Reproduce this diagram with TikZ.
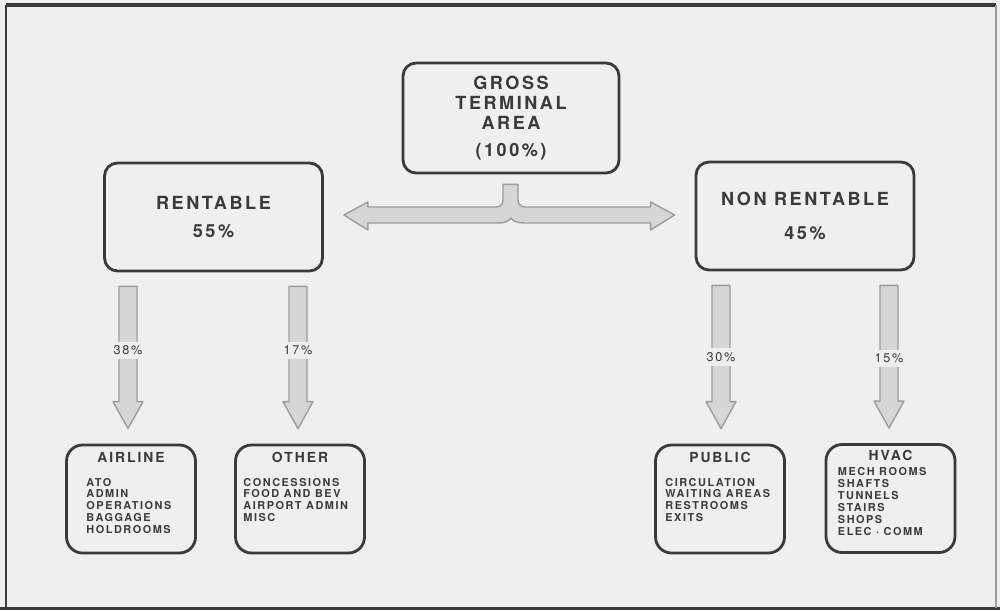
\documentclass[tikz,border=0pt]{standalone}
\usepackage{fontspec}
\usepackage{tikz}
\usetikzlibrary{positioning,calc}
\newfontfamily\diafont[LetterSpace=14]{TeX Gyre Heros}
\definecolor{ink}{HTML}{3A3A3A}
\definecolor{paper}{HTML}{EFEFED}
\definecolor{shade}{HTML}{D6D6D4}
\definecolor{edge}{HTML}{9C9C9A}
\newcommand{\fatdown}[5]{% top, tip, label, pos, name
  \filldraw[fat] ($(#1)+(-9,0)$) -- ($(#1)+(9,0)$) -- ($(#2)+(9,-27)$) -- ($(#2)+(15,-27)$) -- (#2)
    -- ($(#2)+(-15,-27)$) -- ($(#2)+(-9,-27)$) -- cycle;
  \path (#1) -- node[pct,pos=#4] (#5) {#3} (#2);}

\begin{document}
\begin{tikzpicture}[x=0.02cm,y=-0.02cm,every node/.style={text=ink},
      bigbox/.style={draw=ink,line width=1.6pt,rounded corners=0.26cm,minimum width=4.36cm,minimum height=2.16cm,align=center,font=\diafont\bfseries\fontsize{10.3}{11.6}\selectfont},
      smallbox/.style={draw=ink,line width=1.6pt,rounded corners=0.32cm,minimum width=2.58cm,minimum height=2.16cm},
      boxtitle/.style={inner sep=0pt,anchor=north,font=\diafont\bfseries\fontsize{7.9}{9}\selectfont},
      boxlist/.style={inner sep=0pt,anchor=north west,align=left,font=\diafont\bfseries\fontsize{6.2}{6.8}\selectfont},
      pct/.style={fill=paper,inner xsep=1.5pt,inner ysep=2.3pt,font=\diafont\fontsize{7.2}{8}\selectfont},
      fat/.style={fill=shade,draw=edge,line width=0.8pt,line join=round}]
      \fill[paper] (0,0) rectangle (1000,610);
      \useasboundingbox (0,0) rectangle (1000,610);
      \draw[ink,line width=2.2pt] (6,5) -- (996,5);
      \draw[ink,line width=1.4pt] (6,5) -- (6,610);
      \draw[ink,line width=1.2pt] (0,608.5) -- (1000,608.5);
      \draw[ink!50,line width=0.6pt] (996,5) -- (996,608);

      \node[bigbox,minimum width=4.32cm,minimum height=2.2cm] (gross) at (511,118) {GROSS\\TERMINAL\\AREA\\[3.7pt](100\%)};
      \node[bigbox] (rent) at (213.5,217) {RENTABLE\\[4.3pt]55\%};
      \node[bigbox] (nonrent) at (805,216) {NON RENTABLE\\[8.2pt]45\%};

      \node[smallbox] (airline) at (131,499) {};
      \node[smallbox] (other) at (300,499) {};
      \node[smallbox] (public) at (720,499) {};
      \node[smallbox] (hvac) at (890.5,498.5) {};
      \node[boxtitle,below=0.16cm of airline.north] (airlinehd) {AIRLINE};
      \node[boxtitle,below=0.16cm of other.north] (otherhd) {OTHER};
      \node[boxtitle,below=0.16cm of public.north] (publichd) {PUBLIC};
      \node[boxtitle,below=0.14cm of hvac.north] (hvachd) {HVAC};
      \node[boxlist] (airlinelst) at ($(airline.north west)+(21,34)$) {ATO\\ADMIN\\OPERATIONS\\BAGGAGE\\HOLDROOMS};
      \node[boxlist] (otherlst) at ($(other.north west)+(9,34)$) {CONCESSIONS\\FOOD AND BEV\\AIRPORT ADMIN\\MISC};
      \node[boxlist] (publiclst) at ($(public.north west)+(11,34)$) {CIRCULATION\\WAITING AREAS\\RESTROOMS\\EXITS};
      \node[boxlist] (hvaclst) at ($(hvac.north west)+(13,24)$) {MECH ROOMS\\SHAFTS\\TUNNELS\\STAIRS\\SHOPS\\ELEC · COMM};

      \coordinate (stem) at ($(gross.south)+(0,10)$);
      \coordinate (ltip) at ($(rent.east)+(20,-2)$);
      \coordinate (rtip) at ($(nonrent.west)+(-20,-1)$);
      \coordinate (join) at (stem |- ltip);
      \filldraw[fat] (ltip) -- ($(ltip)+(24,-13)$) -- ($(ltip)+(24,-8)$) -- ($(join)+(-15,-8)$)
        .. controls ($(join)+(-11,-8)$) and ($(join)+(-8,-11)$) .. ($(join)+(-8,-15)$) -- ($(stem)+(-8,0)$)
        -- ($(stem)+(7,0)$) -- ($(join)+(7,-15)$)
        .. controls ($(join)+(7,-11)$) and ($(join)+(10,-8)$) .. ($(join)+(14,-8)$) -- ($(rtip)+(-24,-8)$)
        -- ($(rtip)+(-24,-13)$) -- (rtip) -- ($(rtip)+(-24,15)$) -- ($(rtip)+(-24,8)$) -- ($(join)+(15,8)$)
        .. controls ($(join)+(5,8)$) and ($(join)+(2,6)$) .. ($(join)+(0,3)$)
        .. controls ($(join)+(-2,6)$) and ($(join)+(-5,8)$) .. ($(join)+(-15,8)$)
        -- ($(ltip)+(24,8)$) -- ($(ltip)+(24,15)$) -- cycle;

      \coordinate (a1) at ($(airline.north |- rent.south)+(-3,14)$);
      \coordinate (a1t) at ($(airline.north)+(-3,-15)$);
      \coordinate (a2) at ($(other.north |- rent.south)+(-2,14)$);
      \coordinate (a2t) at ($(other.north)+(-2,-15)$);
      \coordinate (a3) at ($(public.north |- nonrent.south)+(1,14)$);
      \coordinate (a3t) at ($(public.north)+(1,-15)$);
      \coordinate (a4) at ($(hvac.north |- nonrent.south)+(-1.5,14)$);
      \coordinate (a4t) at ($(hvac.north)+(-1.5,-15)$);
      \fatdown{a1}{a1t}{38\%}{.45}{p38}
      \fatdown{a2}{a2t}{17\%}{.45}{p17}
      \fatdown{a3}{a3t}{30\%}{.5}{p30}
      \fatdown{a4}{a4t}{15\%}{.51}{p15}
    \end{tikzpicture}
\end{document}
